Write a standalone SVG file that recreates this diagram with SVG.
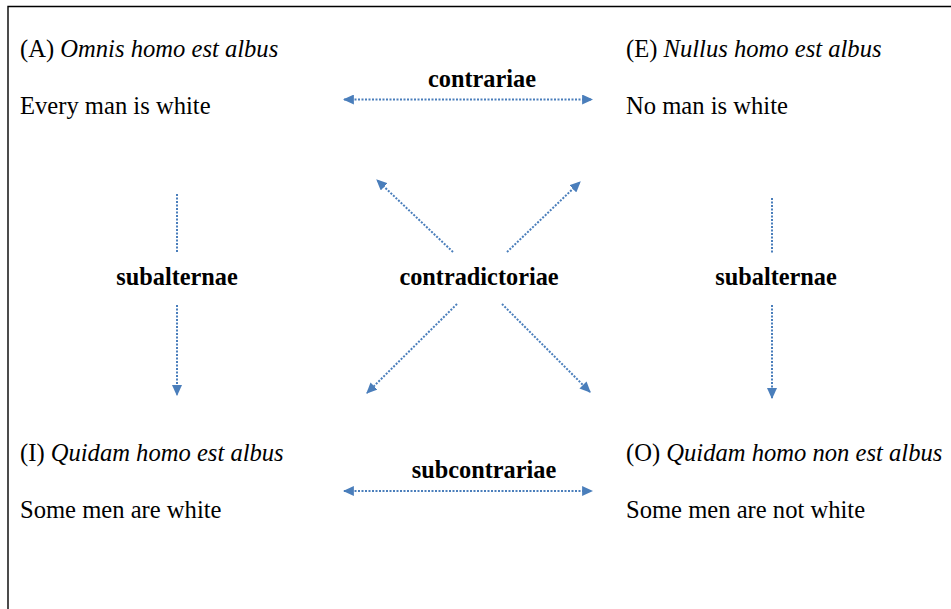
<svg xmlns="http://www.w3.org/2000/svg" width="951" height="609" viewBox="0 0 951 609">
  <style>
    text { font-family: "Liberation Serif", "Times New Roman", serif; font-size: 24.6px; fill: #000; }
    .it { font-style: italic; }
    .lbl { font-weight: bold; text-anchor: middle; font-size: 24.3px; }
    .conn { stroke: #4a7ebb; stroke-width: 2; stroke-dasharray: 2 1.5; fill: none; }
  </style>
  <defs>
    <marker id="head" viewBox="0 0 10 10" refX="9" refY="5" markerWidth="11" markerHeight="10" markerUnits="userSpaceOnUse" orient="auto-start-reverse" preserveAspectRatio="none">
      <path d="M0,0 L10,5 L0,10 z" fill="#4a7ebb"/>
    </marker>
  </defs>
  <rect width="951" height="609" fill="#fff"/>
  <!-- frame: only top and left edges fall within the canvas -->
  <path d="M8,609 V6.5 H951" fill="none" stroke="#000" stroke-width="1.4"/>

  <g id="node-A">
    <text x="20" y="57">(A) <tspan class="it">Omnis homo est albus</tspan></text>
    <text x="20" y="114">Every man is white</text>
  </g>
  <g id="node-E">
    <text x="626" y="57">(E) <tspan class="it">Nullus homo est albus</tspan></text>
    <text x="626" y="114">No man is white</text>
  </g>
  <g id="node-I">
    <text x="20" y="461">(I) <tspan class="it">Quidam homo est albus</tspan></text>
    <text x="20" y="518">Some men are white</text>
  </g>
  <g id="node-O">
    <text x="626" y="461">(O) <tspan class="it">Quidam homo non est albus</tspan></text>
    <text x="626" y="518">Some men are not white</text>
  </g>

  <g id="connectors">
    <line class="conn" x1="344" y1="99.5" x2="592" y2="99.5" marker-start="url(#head)" marker-end="url(#head)"/>
    <line class="conn" x1="344" y1="491" x2="592" y2="491" marker-start="url(#head)" marker-end="url(#head)"/>
    <line class="conn" x1="177" y1="194" x2="177" y2="252"/>
    <line class="conn" x1="177" y1="305" x2="177" y2="395" marker-end="url(#head)"/>
    <line class="conn" x1="772" y1="198" x2="772" y2="254"/>
    <line class="conn" x1="772" y1="305" x2="772" y2="398" marker-end="url(#head)"/>
    <line class="conn" x1="453" y1="252" x2="377" y2="180" marker-end="url(#head)"/>
    <line class="conn" x1="507" y1="252" x2="580" y2="182" marker-end="url(#head)"/>
    <line class="conn" x1="457" y1="304" x2="367" y2="393" marker-end="url(#head)"/>
    <line class="conn" x1="502" y1="304" x2="590" y2="392" marker-end="url(#head)"/>
  </g>

  <g id="labels">
    <text class="lbl" x="482" y="87">contrariae</text>
    <text class="lbl" x="177" y="285">subalternae</text>
    <text class="lbl" x="479" y="285">contradictoriae</text>
    <text class="lbl" x="776" y="285">subalternae</text>
    <text class="lbl" x="484" y="478">subcontrariae</text>
  </g>
</svg>
